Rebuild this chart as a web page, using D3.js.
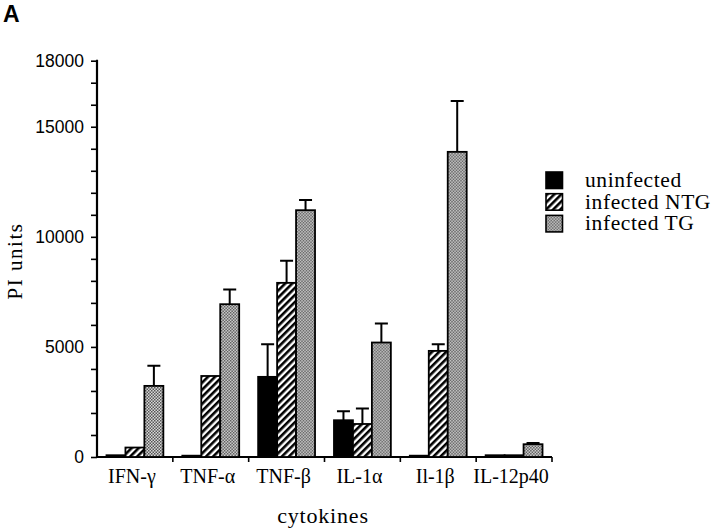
<!DOCTYPE html>
<html>
<head>
<meta charset="utf-8">
<script src="https://cdn.jsdelivr.net/npm/d3@7"></script>
<style>
  body { margin: 0; background: #fff; }
  svg { display: block; }
  .serif { font-family: "Liberation Serif", "Times New Roman", serif; fill: #000; }
  .sans { font-family: "Liberation Sans", Arial, sans-serif; fill: #000; }
</style>
</head>
<body>
<div id="chart"></div>
<script>
// cytokine groups and the three series (PI units)
const categories = ['IFN-γ', 'TNF-α', 'TNF-β', 'IL-1α', 'Il-1β', 'IL-12p40'];
const seriesNames = ['uninfected', 'infected NTG', 'infected TG'];

const uninfected  = [80, 60, 3640, 1670, 60, 80];
const infectedNTG = [430, 3680, 7910, 1500, 4820, 80];
const infectedTG  = [3230, 6940, 11210, 5200, 13860, 580];

// upper error amounts (0 = no visible bar)
const errUninfected  = [0, 0, 1480, 410, 0, 0];
const errInfectedNTG = [0, 0, 1000, 700, 300, 0];
const errInfectedTG  = [920, 670, 460, 860, 2310, 60];

const yMajorTicks = [0, 5000, 10000, 15000, 18000];
const yMinorStep = 1000;
const yMax = 18000;

const width = 720, height = 529;
const plot = { left: 97, right: 552, top: 60.7, bottom: 457 };

const svg = d3.select('#chart').append('svg')
    .attr('width', width)
    .attr('height', height);

// patterns
const defs = svg.append('defs');

const hatch = defs.append('pattern')
    .attr('id', 'hatch')
    .attr('patternUnits', 'userSpaceOnUse')
    .attr('width', 5)
    .attr('height', 5)
    .attr('patternTransform', 'rotate(45)');
hatch.append('rect').attr('width', 5).attr('height', 5).attr('fill', '#fff');
hatch.append('rect').attr('width', 2.6).attr('height', 5).attr('fill', '#000');

const dots = defs.append('pattern')
    .attr('id', 'dots')
    .attr('patternUnits', 'userSpaceOnUse')
    .attr('width', 3)
    .attr('height', 3);
dots.append('rect').attr('width', 3).attr('height', 3).attr('fill', '#d8d8d8');
dots.append('rect').attr('width', 1.5).attr('height', 1.5).attr('fill', '#555');
dots.append('rect').attr('x', 1.5).attr('y', 1.5).attr('width', 1.5).attr('height', 1.5).attr('fill', '#555');

const fills = ['#000', 'url(#hatch)', 'url(#dots)'];

const rows = categories.map((c, i) => ({
    category: c,
    values: [
        { key: seriesNames[0], value: uninfected[i], err: errUninfected[i], s: 0 },
        { key: seriesNames[1], value: infectedNTG[i], err: errInfectedNTG[i], s: 1 },
        { key: seriesNames[2], value: infectedTG[i], err: errInfectedTG[i], s: 2 }
    ]
}));

const x0 = d3.scaleBand()
    .domain(categories)
    .range([plot.left, plot.right])
    .padding(0);

const x1 = d3.scaleBand()
    .domain(seriesNames)
    .range([0, x0.bandwidth()])
    .paddingInner(0)
    .paddingOuter(0.5);

const y = d3.scaleLinear()
    .domain([0, yMax])
    .range([plot.bottom, plot.top]);

// y axis
const yAxis = d3.axisLeft(y)
    .tickValues(d3.range(0, yMax + 1, yMinorStep))
    .tickSize(6)
    .tickFormat(d => yMajorTicks.includes(d) ? d : '');

const gy = svg.append('g')
    .attr('transform', `translate(${plot.left},0)`)
    .call(yAxis);
gy.select('.domain').remove();
gy.selectAll('.tick line').attr('stroke', '#000').attr('stroke-width', 1.6);
gy.selectAll('.tick text')
    .attr('class', 'sans')
    .attr('font-size', 17.5)
    .attr('x', -13)
    .attr('dy', '0.34em');
svg.append('line')
    .attr('x1', plot.left).attr('x2', plot.left)
    .attr('y1', y(yMax) - 1).attr('y2', plot.bottom)
    .attr('stroke', '#000').attr('stroke-width', 2.2);

// x axis
const boundaries = categories.map(c => x0(c)).concat([plot.right]);
svg.append('line')
    .attr('x1', plot.left).attr('x2', plot.right)
    .attr('y1', plot.bottom).attr('y2', plot.bottom)
    .attr('stroke', '#000').attr('stroke-width', 2.2);
svg.append('g').selectAll('line')
    .data(boundaries.slice(1))
    .join('line')
    .attr('x1', d => d).attr('x2', d => d)
    .attr('y1', plot.bottom).attr('y2', plot.bottom + 5)
    .attr('stroke', '#000').attr('stroke-width', 1.6);

svg.append('g').selectAll('text')
    .data(categories)
    .join('text')
    .attr('class', 'serif')
    .attr('font-size', 20)
    .attr('text-anchor', 'middle')
    .attr('x', d => x0(d) + x0.bandwidth() / 2 - 3)
    .attr('y', 483)
    .text(d => d);

// bars
const groups = svg.append('g').selectAll('g')
    .data(rows)
    .join('g')
    .attr('transform', d => `translate(${x0(d.category)},0)`);

groups.selectAll('path.err')
    .data(d => d.values.filter(v => v.err > 0))
    .join('path')
    .attr('class', 'err')
    .attr('fill', 'none')
    .attr('stroke', '#000')
    .attr('stroke-width', 2)
    .attr('d', v => {
        const cx = x1(v.key) + x1.bandwidth() / 2;
        const top = y(v.value + v.err);
        return `M${cx},${y(v.value)}V${top}M${cx - 6.5},${top}H${cx + 6.5}`;
    });

groups.selectAll('rect')
    .data(d => d.values)
    .join('rect')
    .attr('x', v => x1(v.key))
    .attr('width', x1.bandwidth())
    .attr('y', v => y(v.value))
    .attr('height', v => plot.bottom - y(v.value))
    .attr('fill', v => fills[v.s])
    .attr('stroke', '#000')
    .attr('stroke-width', 1.8);

// legend
const legend = svg.append('g')
    .attr('transform', 'translate(546,172)');
const item = legend.selectAll('g')
    .data(seriesNames)
    .join('g')
    .attr('transform', (d, i) => `translate(0,${i * 21.7})`);
item.append('rect')
    .attr('width', 16.5)
    .attr('height', 16.5)
    .attr('fill', (d, i) => fills[i])
    .attr('stroke', '#000')
    .attr('stroke-width', 1.6);
item.append('text')
    .attr('class', 'serif')
    .attr('font-size', 21.5)
    .attr('letter-spacing', 0.6)
    .attr('x', 39)
    .attr('y', 15)
    .text(d => d);

// axis titles
svg.append('text')
    .attr('class', 'serif')
    .attr('font-size', 22)
    .attr('letter-spacing', 0.8)
    .attr('text-anchor', 'middle')
    .attr('x', 323)
    .attr('y', 523)
    .text('cytokines');

svg.append('text')
    .attr('class', 'serif')
    .attr('font-size', 21)
    .attr('letter-spacing', 1.5)
    .attr('text-anchor', 'middle')
    .attr('transform', 'translate(22,261) rotate(-90)')
    .text('PI units');

// panel letter
svg.append('text')
    .attr('class', 'sans')
    .attr('font-size', 23)
    .attr('font-weight', 'bold')
    .attr('x', 3)
    .attr('y', 22)
    .text('A');
</script>
</body>
</html>
